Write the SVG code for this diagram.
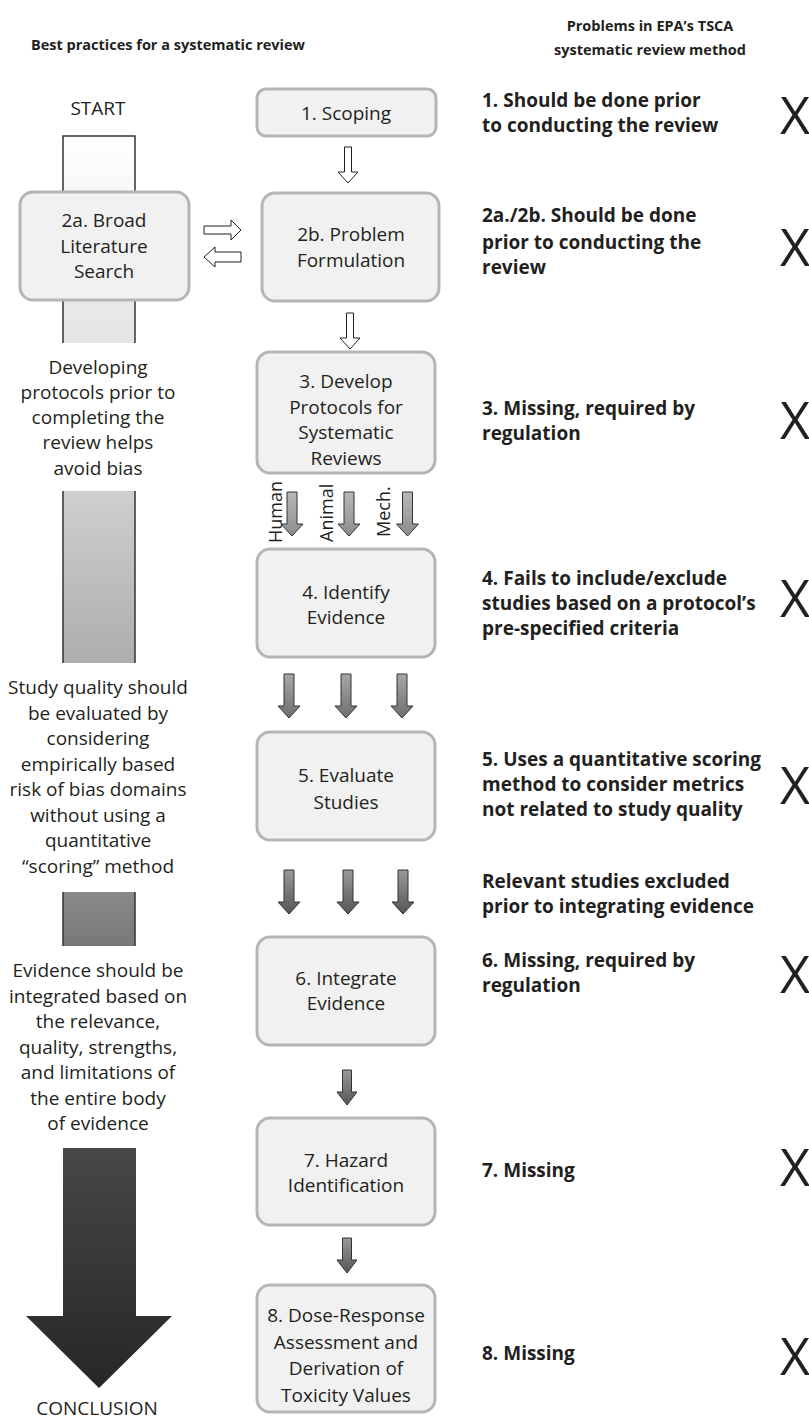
<svg xmlns="http://www.w3.org/2000/svg" width="809" height="1419" viewBox="0 0 809 1419">
<style>
text{font-family:"Open Sans","Liberation Sans",sans-serif;fill:#231f20}
.hdr{font-size:14.5px;font-weight:bold;text-anchor:middle}
.lt{font-size:19px;text-anchor:middle}
.bt{font-size:19px;text-anchor:middle}
.rt{font-size:19px;font-weight:bold}
.x{font-size:52px;text-anchor:middle}
.lab{font-size:18px}
.box{fill:#f1f1f1;stroke:#b5b5b5;stroke-width:3}
.seg{stroke:#333;stroke-width:1.5}
.hol{fill:#fff;stroke:#231f20;stroke-width:1}
.ga{fill:url(#gA);stroke:#333;stroke-width:1}
.gb{fill:url(#gB);stroke:#333;stroke-width:1}
.gc{fill:url(#gC);stroke:#333;stroke-width:1}
</style>
<defs>
<linearGradient id="bar" gradientUnits="userSpaceOnUse" x1="0" y1="136" x2="0" y2="1390">
<stop offset="0" stop-color="#ffffff"/>
<stop offset="0.165" stop-color="#e4e4e4"/>
<stop offset="0.283" stop-color="#cfcfcf"/>
<stop offset="0.42" stop-color="#adadad"/>
<stop offset="0.603" stop-color="#8a8a8a"/>
<stop offset="0.646" stop-color="#787878"/>
<stop offset="0.81" stop-color="#474747"/>
<stop offset="1" stop-color="#262626"/>
</linearGradient>
<linearGradient id="gA" x1="0" y1="0" x2="0" y2="1"><stop offset="0" stop-color="#b8b8b8"/><stop offset="1" stop-color="#8c8c8c"/></linearGradient>
<linearGradient id="gB" x1="0" y1="0" x2="0" y2="1"><stop offset="0" stop-color="#a8a8a8"/><stop offset="1" stop-color="#6e6e6e"/></linearGradient>
<linearGradient id="gC" x1="0" y1="0" x2="0" y2="1"><stop offset="0" stop-color="#9a9a9a"/><stop offset="1" stop-color="#555555"/></linearGradient>
<path id="dl" d="M-5,0 H5 V32 H11 L0,44 L-11,32 H-5 Z"/>
<path id="ds" d="M-4.5,0 H4.5 V22 H10 L0,35 L-10,22 H-4.5 Z"/>
</defs>

<g id="headers">
<text class="hdr" x="168" y="50">Best practices for a systematic review</text>
<text class="hdr" x="650" y="31">Problems in EPA’s TSCA</text>
<text class="hdr" x="650" y="55">systematic review method</text>
</g>

<g id="timeline">
<text class="lt" x="98" y="115">START</text>
<path d="M63,136 H135 V343 H63 Z" fill="url(#bar)" stroke="none"/>
<path class="seg" d="M63,343 V136 H135 V343" fill="none"/>
<rect x="63" y="491" width="72" height="172" fill="url(#bar)"/>
<path class="seg" d="M63,491 V663 M135,491 V663" fill="none"/>
<rect x="63" y="892" width="72" height="54" fill="url(#bar)"/>
<path class="seg" d="M63,892 V946 M135,892 V946" fill="none"/>
<path d="M63,1148 H136 V1316 H172 L99,1388 L26,1316 H63 Z" fill="url(#bar)"/>
<g class="lt">
<text x="98" y="374">Developing</text>
<text x="98" y="399">protocols prior to</text>
<text x="98" y="424">completing the</text>
<text x="98" y="449">review helps</text>
<text x="98" y="475">avoid bias</text>
<text x="98" y="694">Study quality should</text>
<text x="98" y="719.5">be evaluated by</text>
<text x="98" y="745">considering</text>
<text x="98" y="770.5">empirically based</text>
<text x="98" y="796">risk of bias domains</text>
<text x="98" y="821.5">without using a</text>
<text x="98" y="847">quantitative</text>
<text x="98" y="872.5">“scoring” method</text>
<text x="98" y="977">Evidence should be</text>
<text x="98" y="1002.5">integrated based on</text>
<text x="98" y="1028">the relevance,</text>
<text x="98" y="1053.5">quality, strengths,</text>
<text x="98" y="1079">and limitations of</text>
<text x="98" y="1104.5">the entire body</text>
<text x="98" y="1130">of evidence</text>
</g>
<text class="lt" x="97" y="1415">CONCLUSION</text>
</g>

<g id="node-2a">
<rect class="box" x="20" y="192" width="169" height="108" rx="13"/>
<text class="bt" x="104" y="227">2a. Broad</text>
<text class="bt" x="104" y="253">Literature</text>
<text class="bt" x="104" y="278">Search</text>
</g>
<g id="node-1">
<rect class="box" x="257" y="89" width="179" height="47" rx="9"/>
<text class="bt" x="346" y="120">1. Scoping</text>
</g>
<g id="node-2b">
<rect class="box" x="262" y="193" width="177" height="108" rx="13"/>
<text class="bt" x="351" y="241">2b. Problem</text>
<text class="bt" x="351" y="267">Formulation</text>
</g>
<g id="node-3">
<rect class="box" x="257" y="352" width="178" height="121" rx="13"/>
<text class="bt" x="346" y="388">3. Develop</text>
<text class="bt" x="346" y="413.5">Protocols for</text>
<text class="bt" x="346" y="439">Systematic</text>
<text class="bt" x="346" y="464.5">Reviews</text>
</g>
<g id="node-4">
<rect class="box" x="257" y="549" width="178" height="108" rx="13"/>
<text class="bt" x="346" y="599">4. Identify</text>
<text class="bt" x="346" y="624">Evidence</text>
</g>
<g id="node-5">
<rect class="box" x="257" y="732" width="178" height="108" rx="13"/>
<text class="bt" x="346" y="782">5. Evaluate</text>
<text class="bt" x="346" y="809">Studies</text>
</g>
<g id="node-6">
<rect class="box" x="257" y="937" width="178" height="108" rx="13"/>
<text class="bt" x="346" y="985">6. Integrate</text>
<text class="bt" x="346" y="1010">Evidence</text>
</g>
<g id="node-7">
<rect class="box" x="257" y="1118" width="178" height="107" rx="13"/>
<text class="bt" x="346" y="1167">7. Hazard</text>
<text class="bt" x="346" y="1192">Identification</text>
</g>
<g id="node-8">
<rect class="box" x="257" y="1285" width="178" height="127" rx="13"/>
<text class="bt" x="346" y="1322">8. Dose-Response</text>
<text class="bt" x="346" y="1349">Assessment and</text>
<text class="bt" x="346" y="1375">Derivation of</text>
<text class="bt" x="346" y="1402">Toxicity Values</text>
</g>

<g id="connectors">
<path class="hol" d="M344.5,147 H351.5 V172 H358 L348,183 L338,172 H344.5 Z"/>
<path class="hol" d="M204,226 H231 V220 L241,230 L231,240 V234 H204 Z"/>
<path class="hol" d="M241,252 H215 V247 L204,257 L215,267 V262 H241 Z"/>
<path class="hol" d="M346.5,313 H353.5 V338 H360 L350,349 L340,338 H346.5 Z"/>
<use href="#dl" class="ga" x="292" y="492"/>
<use href="#dl" class="ga" x="349" y="492"/>
<use href="#dl" class="ga" x="407.5" y="492"/>
<use href="#dl" class="gb" x="289" y="674"/>
<use href="#dl" class="gb" x="346" y="674"/>
<use href="#dl" class="gb" x="402" y="674"/>
<use href="#dl" class="gc" x="289" y="870"/>
<use href="#dl" class="gc" x="348" y="870"/>
<use href="#dl" class="gc" x="403" y="870"/>
<use href="#ds" class="gc" x="347" y="1070"/>
<use href="#ds" class="gc" x="347" y="1238"/>
<text class="lab" transform="translate(282,543) rotate(-90)">Human</text>
<text class="lab" transform="translate(333,542) rotate(-90)">Animal</text>
<text class="lab" transform="translate(390,537) rotate(-90)">Mech.</text>
</g>

<g id="problems">
<text class="rt" x="482" y="107">1. Should be done prior</text>
<text class="rt" x="482" y="132">to conducting the review</text>
<text class="x" x="795" y="134">X</text>
<text class="rt" x="482" y="222">2a./2b. Should be done</text>
<text class="rt" x="482" y="249">prior to conducting the</text>
<text class="rt" x="482" y="274">review</text>
<text class="x" x="795" y="266">X</text>
<text class="rt" x="482" y="415">3. Missing, required by</text>
<text class="rt" x="482" y="440">regulation</text>
<text class="x" x="795" y="439">X</text>
<text class="rt" x="482" y="585">4. Fails to include/exclude</text>
<text class="rt" x="482" y="610">studies based on a protocol’s</text>
<text class="rt" x="482" y="635">pre-specified criteria</text>
<text class="x" x="795" y="617">X</text>
<text class="rt" x="482" y="766">5. Uses a quantitative scoring</text>
<text class="rt" x="482" y="791">method to consider metrics</text>
<text class="rt" x="482" y="816">not related to study quality</text>
<text class="x" x="795" y="804">X</text>
<text class="rt" x="482" y="888">Relevant studies excluded</text>
<text class="rt" x="482" y="913">prior to integrating evidence</text>
<text class="rt" x="482" y="967">6. Missing, required by</text>
<text class="rt" x="482" y="992">regulation</text>
<text class="x" x="795" y="993">X</text>
<text class="rt" x="482" y="1177">7. Missing</text>
<text class="x" x="795" y="1186">X</text>
<text class="rt" x="482" y="1360">8. Missing</text>
<text class="x" x="795" y="1375">X</text>
</g>
</svg>
